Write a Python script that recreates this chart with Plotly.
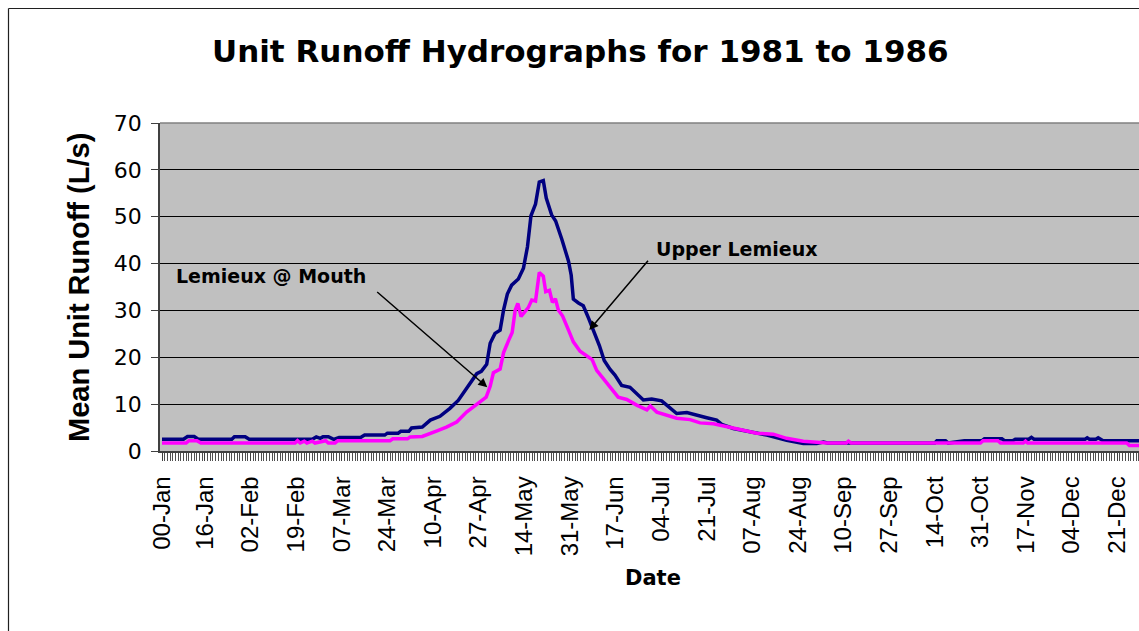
import plotly.graph_objects as go

# ---------------- data (day of year, mean unit runoff L/s) ----------------
upper_days = [0, 8, 9.5, 12, 13.5, 26, 27, 31, 32.5, 56, 57.5, 59, 60, 62, 64, 66, 74, 75.5, 83, 84, 88, 89, 92,
              93, 97, 100, 103.6, 107.3, 110.4, 113, 114.5, 117.3, 119, 121, 122.3, 124.1, 126, 127.3, 128.7,
              130.3, 132.8, 134.7, 136.2, 137.5, 139.2, 140.6, 142.1, 143.2, 145.2, 146.7, 149, 151.5, 152.5,
              153.3, 155.2, 157, 159, 161, 163, 164.8, 167, 168.8, 171.3, 174.4, 176.9, 179.4, 182.5, 186.2,
              188.1, 191.8, 195.6, 199.3, 203, 206.7, 208.6, 212.9, 219.2, 225.4, 232.8, 239, 244, 246.5, 248,
              288, 288.8, 292, 293, 299, 305.6, 306.5, 313, 314, 317, 318, 323, 324, 325, 344, 344.8, 345.6,
              348, 348.9, 349.8, 350.7, 365]
upper_vals = [2.5, 2.5, 3.1, 3.1, 2.5, 2.5, 3.05, 3.05, 2.5, 2.5, 3.0, 2.7, 3.05, 3.05, 2.5, 2.9, 2.9, 3.4, 3.4,
              3.8, 3.8, 4.2, 4.2, 4.9, 5.1, 6.6, 7.4, 9.1, 10.8, 13.0, 14.4, 16.5, 17.0, 18.5, 23.0, 25.1, 25.8,
              30.1, 33.5, 35.4, 36.7, 39.0, 43.6, 50.2, 52.7, 57.4, 57.7, 54.0, 50.4, 49.1, 45.2, 40.5, 37.5,
              32.4, 31.6, 31.0, 28.3, 25.5, 22.5, 19.3, 17.4, 16.2, 14.0, 13.6, 12.3, 10.9, 11.1, 10.7, 9.8, 8.0,
              8.2, 7.6, 7.1, 6.6, 5.7, 4.8, 4.1, 3.4, 2.3, 1.6, 1.6, 1.9, 1.7, 1.7, 2.2, 2.2, 1.7, 2.2, 2.2,
              2.6, 2.6, 2.2, 2.2, 2.5, 2.5, 2.9, 2.5, 2.5, 2.8, 2.5, 2.5, 2.8, 2.5, 2.2, 2.2]

mouth_days = [0, 9, 10, 13, 14.5, 49.6, 50.5, 51.5, 53, 54, 56, 57, 61, 62, 64.5, 65.5, 85, 86, 91.5, 92.5, 97,
              99, 102.5, 106, 109.8, 113.5, 116.7, 118.5, 120.8, 122.3, 123.5, 126, 127.3, 129.1, 130.5, 131.6,
              132.6, 133.8, 136.5, 137.8, 139.2, 140.6, 142.1, 143, 144.4, 145.5, 146.6, 147.7, 149.3, 151.5,
              153.3, 155.8, 158.3, 160.3, 162, 163.9, 165.7, 167.5, 170, 173.2, 176.9, 180.7, 182, 184.4, 188.1,
              191.8, 196.8, 200.5, 205.5, 210.4, 215.4, 221.6, 227.8, 232.8, 239, 247.7, 255, 255.8, 256.8, 305,
              306, 311.5, 312.5, 321, 321.8, 322.6, 359.5, 360.5, 365]
mouth_vals = [1.7, 1.7, 2.2, 2.2, 1.7, 1.7, 2.2, 1.7, 2.1, 1.7, 2.1, 1.7, 2.2, 1.7, 1.7, 2.2, 2.2, 2.6, 2.6, 3.0,
              3.1, 3.5, 4.3, 5.1, 6.2, 8.3, 9.8, 10.6, 11.5, 13.8, 16.7, 17.5, 21.0, 23.5, 25.3, 30.0, 31.5, 28.7,
              30.6, 32.2, 32.0, 38.1, 37.3, 34.0, 34.3, 31.7, 32.5, 30.1, 28.8, 25.8, 23.3, 21.3, 20.3, 19.5, 17.2,
              15.8, 14.6, 13.3, 11.5, 11.0, 9.8, 8.8, 9.6, 8.3, 7.6, 7.0, 6.7, 6.0, 5.8, 5.3, 4.6, 3.8, 3.6, 2.7,
              2.1, 1.7, 1.7, 2.1, 1.7, 1.7, 2.2, 2.2, 1.7, 1.7, 2.1, 1.7, 1.7, 1.2, 1.2]

tick_days = [0, 16, 33, 50, 67, 84, 101, 118, 135, 152, 169, 186, 203, 220, 237, 254, 271, 288, 305, 322, 339, 356]
tick_labels = ["00-Jan", "16-Jan", "02-Feb", "19-Feb", "07-Mar", "24-Mar", "10-Apr", "27-Apr", "14-May",
               "31-May", "17-Jun", "04-Jul", "21-Jul", "07-Aug", "24-Aug", "10-Sep", "27-Sep", "14-Oct",
               "31-Oct", "17-Nov", "04-Dec", "21-Dec"]
y_ticks = [0, 10, 20, 30, 40, 50, 60, 70]

series_names = ["Upper Lemieux", "Lemieux @ Mouth"]
title_text = "Unit Runoff Hydrographs for 1981 to 1986"

# ---------------- layout geometry (page body margin removed in post_script) ----------------
W, H = 1139, 631
ML, MR, MT, MB = 160, 0, 123, 180
PW, PH = W - ML - MR, H - MT - MB


def px(x):
    """page x pixel -> paper x"""
    return (x - ML) / PW


def py(y):
    """page y pixel -> paper y"""
    return (H - MB - y) / PH


fig = go.Figure()
fig.add_trace(go.Scatter(x=upper_days, y=upper_vals, mode="lines", name=series_names[0],
                         line=dict(color="#000080", width=3.5)))
fig.add_trace(go.Scatter(x=mouth_days, y=mouth_vals, mode="lines", name=series_names[1],
                         line=dict(color="#FF00FF", width=3.5)))

fig.update_layout(
    width=W, height=H,
    margin=dict(l=ML, r=MR, t=MT, b=MB, pad=0),
    paper_bgcolor="white", plot_bgcolor="#C0C0C0",
    showlegend=False,
    font=dict(family="Liberation Sans, Arial", color="black"),
)

fig.update_xaxes(
    range=[-0.745, 364.1], tickmode="array", tickvals=tick_days, ticktext=tick_labels,
    tickangle=-90, tickfont=dict(family="Liberation Sans, Arial", size=24, color="black"),
    ticks="outside", ticklen=8, tickcolor="#404040", tickwidth=1,
    ticklabelstandoff=6,
    showgrid=False, zeroline=False, showline=True, linecolor="#404040", linewidth=1.5,
    minor=dict(tickmode="linear", tick0=0, dtick=1, ticks="outside", ticklen=8,
               tickcolor="#505050", tickwidth=1, showgrid=False),
)
fig.update_yaxes(
    range=[0, 70], tickmode="array", tickvals=y_ticks,
    tickfont=dict(family="DejaVu Sans", size=22, color="black"),
    ticks="outside", ticklen=7, tickcolor="#404040", tickwidth=1, ticklabelstandoff=5,
    showgrid=True, gridcolor="black", gridwidth=1, zeroline=False,
    showline=True, linecolor="#404040", linewidth=1.5,
)

# plot-area top border (gray) and outer chart border
fig.add_shape(type="line", xref="paper", yref="paper", x0=0, x1=1, y0=1, y1=1,
              line=dict(color="#808080", width=1.5))
fig.add_shape(type="line", xref="paper", yref="paper", x0=px(8.5), x1=px(8.5), y0=py(8.5), y1=py(640),
              line=dict(color="#202020", width=1.2))
fig.add_shape(type="line", xref="paper", yref="paper", x0=px(8.5), x1=px(1150), y0=py(8.5), y1=py(8.5),
              line=dict(color="#202020", width=1.2))

# title and axis titles
fig.add_annotation(text=title_text, xref="paper", yref="paper", x=px(580), y=py(51),
                   xanchor="center", yanchor="middle", showarrow=False,
                   font=dict(family="DejaVu Sans", size=31, color="black", weight="bold"))
fig.add_annotation(text="Mean Unit Runoff (L/s)", xref="paper", yref="paper", x=px(79), y=py(288),
                   xanchor="center", yanchor="middle", showarrow=False, textangle=-90,
                   font=dict(family="Liberation Sans, Arial", size=29, color="black", weight="bold"))
fig.add_annotation(text="Date", xref="paper", yref="paper", x=px(653), y=py(578),
                   xanchor="center", yanchor="middle", showarrow=False,
                   font=dict(family="DejaVu Sans", size=21, color="black", weight="bold"))

# series labels with arrows
fig.add_annotation(text=series_names[0], xref="paper", yref="paper", x=px(736.5), y=py(249),
                   xanchor="center", yanchor="middle", showarrow=False,
                   font=dict(family="DejaVu Sans", size=19, color="black", weight="bold"))
fig.add_annotation(text=series_names[1], xref="paper", yref="paper", x=px(270.5), y=py(275.5),
                   xanchor="center", yanchor="middle", showarrow=False,
                   font=dict(family="DejaVu Sans", size=19, color="black", weight="bold"))
fig.add_annotation(text="", xref="paper", yref="paper", x=px(589.3), y=py(330),
                   ax=60, ay=-70.7, showarrow=True, arrowhead=2, arrowsize=1.2, arrowwidth=1.5,
                   arrowcolor="black", standoff=0)
fig.add_annotation(text="", xref="paper", yref="paper", x=px(487.3), y=py(387.3),
                   ax=-111.6, ay=-96.6, showarrow=True, arrowhead=2, arrowsize=1.2, arrowwidth=1.5,
                   arrowcolor="black", standoff=0)

fig.write_html("out.html",
               config={"displayModeBar": False},
               post_script="document.body.style.margin='0';document.body.style.overflow='hidden';")
